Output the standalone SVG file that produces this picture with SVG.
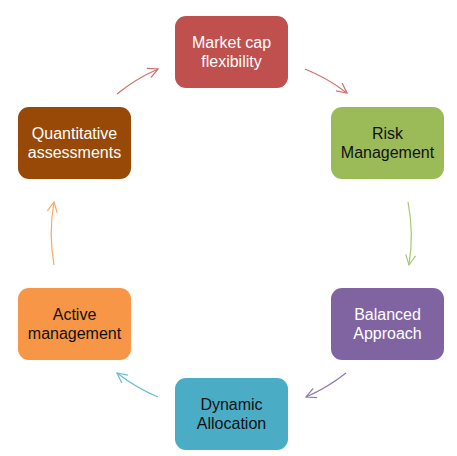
<svg xmlns="http://www.w3.org/2000/svg" width="457" height="456" viewBox="0 0 457 456">
<style>
.box{stroke:none}
.t{font-family:"Liberation Sans",Arial,sans-serif;font-size:16px;text-anchor:middle}
.w{fill:#FFFFFF}
.k{fill:#111111}
.c{fill:none;stroke-width:1.2}
</style>
<defs>
<marker id="mr" markerUnits="userSpaceOnUse" markerWidth="14" markerHeight="14" refX="11" refY="6" orient="auto"><path d="M1,1 L11,6 L1,11" fill="none" stroke="#CF6F6C" stroke-width="1.2"/></marker>
<marker id="mg" markerUnits="userSpaceOnUse" markerWidth="14" markerHeight="14" refX="11" refY="6" orient="auto"><path d="M1,1 L11,6 L1,11" fill="none" stroke="#A9C673" stroke-width="1.2"/></marker>
<marker id="mp" markerUnits="userSpaceOnUse" markerWidth="14" markerHeight="14" refX="11" refY="6" orient="auto"><path d="M1,1 L11,6 L1,11" fill="none" stroke="#9179B0" stroke-width="1.2"/></marker>
<marker id="mt" markerUnits="userSpaceOnUse" markerWidth="14" markerHeight="14" refX="11" refY="6" orient="auto"><path d="M1,1 L11,6 L1,11" fill="none" stroke="#6BBCD2" stroke-width="1.2"/></marker>
<marker id="mo" markerUnits="userSpaceOnUse" markerWidth="14" markerHeight="14" refX="11" refY="6" orient="auto"><path d="M1,1 L11,6 L1,11" fill="none" stroke="#F9A869" stroke-width="1.2"/></marker>
</defs>
<rect width="457" height="456" fill="#FFFFFF"/>
<g id="connectors">
<path class="c" d="M305,69 A180,180 0 0 1 347,93" stroke="#CF6F6C" marker-end="url(#mr)"/>
<path class="c" d="M408,202 A180,180 0 0 1 409,265" stroke="#A9C673" marker-end="url(#mg)"/>
<path class="c" d="M346,373 A180,180 0 0 1 306,397" stroke="#9179B0" marker-end="url(#mp)"/>
<path class="c" d="M158,397 A180,180 0 0 1 117,373" stroke="#6BBCD2" marker-end="url(#mt)"/>
<path class="c" d="M54,265 A180,180 0 0 1 54,202" stroke="#F9A869" marker-end="url(#mo)"/>
<path class="c" d="M117,94 A180,180 0 0 1 158,69" stroke="#CF6F6C" marker-end="url(#mr)"/>
</g>
<g id="n1"><rect class="box" x="175" y="16" width="113" height="72" rx="11" fill="#C0504D"/><text class="t w" x="231.5" y="48">Market cap</text><text class="t w" x="231.5" y="67">flexibility</text></g>
<g id="n2"><rect class="box" x="331" y="107" width="113" height="72" rx="11" fill="#9BBB59"/><text class="t k" x="387.5" y="139">Risk</text><text class="t k" x="387.5" y="158">Management</text></g>
<g id="n3"><rect class="box" x="331" y="288" width="113" height="72" rx="11" fill="#8064A2"/><text class="t w" x="387.5" y="320">Balanced</text><text class="t w" x="387.5" y="339">Approach</text></g>
<g id="n4"><rect class="box" x="175" y="378" width="113" height="72" rx="11" fill="#4BACC6"/><text class="t k" x="231.5" y="410">Dynamic</text><text class="t k" x="231.5" y="429">Allocation</text></g>
<g id="n5"><rect class="box" x="18" y="288" width="113" height="72" rx="11" fill="#F79646"/><text class="t k" x="74.5" y="320">Active</text><text class="t k" x="74.5" y="339">management</text></g>
<g id="n6"><rect class="box" x="18" y="107" width="113" height="72" rx="11" fill="#984807"/><text class="t w" x="74.5" y="139">Quantitative</text><text class="t w" x="74.5" y="158">assessments</text></g>
</svg>
